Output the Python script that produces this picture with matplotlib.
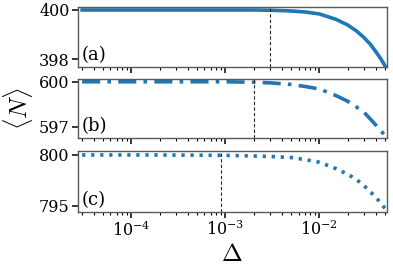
import numpy as np
import matplotlib
matplotlib.use('Agg')
import matplotlib.pyplot as plt

plt.rcParams['font.family'] = 'DejaVu Serif'
plt.rcParams['mathtext.fontset'] = 'dejavuserif'

# data
delta = [3e-5, 5e-5, 1e-4, 2e-4, 5e-4, 1e-3, 2e-3, 3e-3, 5e-3, 7e-3,
         0.01, 0.015, 0.02, 0.025, 0.03, 0.035, 0.04, 0.045, 0.05]
n_a = [400.0, 400.0, 400.0, 400.0, 400.0, 400.0, 400.0, 399.99, 399.96, 399.92,
       399.84, 399.62, 399.39, 399.14, 398.87, 398.6, 398.3, 398.02, 397.73]
n_b = [600.0, 600.0, 600.0, 600.0, 600.0, 600.0, 599.97, 599.93, 599.82, 599.69,
       599.52, 599.08, 598.7, 598.3, 597.95, 597.5, 597.1, 596.75, 596.38]
n_c = [800.0, 800.0, 800.0, 800.0, 799.98, 799.96, 799.9, 799.85, 799.75, 799.55,
       799.28, 798.65, 798.1, 797.55, 796.95, 796.35, 795.8, 795.25, 794.7]
vlines = [3e-3, 2e-3, 9e-4]
yticks = [[398, 400], [597, 600], [795, 800]]
ylims = [(397.70, 400.12), (596.25, 600.16), (794.35, 800.4)]
panel_lbl = ['(a)', '(b)', '(c)']
styles = ['-', (0, (5, 2, 1, 2)), (0, (0.9, 1.6))]

fig = plt.figure(figsize=(3.93, 2.70), dpi=100)
boxes = [(0.198, 0.753, 0.786, 0.221),
         (0.198, 0.489, 0.786, 0.217),
         (0.198, 0.214, 0.786, 0.227)]
axes = [fig.add_axes(b) for b in boxes]

for i, (ax, n) in enumerate(zip(axes, [n_a, n_b, n_c])):
    ax.plot(delta, n, ls=styles[i], color='#1f77b4', lw=2.6)
    ax.axvline(vlines[i], color='0.15', ls=(0, (3, 2)), lw=0.8)
    ax.set_xscale('log')
    ax.set_xlim(2.7e-5, 0.052)
    ax.set_ylim(*ylims[i])
    ax.set_yticks(yticks[i])
    ax.text(0.012, 0.2, panel_lbl[i], transform=ax.transAxes, fontsize=13,
            va='center', ha='left')
    for s in ax.spines.values():
        s.set_color('0.35')
        s.set_linewidth(1.0)
    ax.tick_params(axis='both', which='major', length=4, width=1.1, labelsize=11.5, pad=2)
    ax.tick_params(axis='x', which='minor', length=2.5, width=0.8)
    if i < 2:
        ax.tick_params(axis='x', which='both', labelbottom=False)

axes[2].set_xlabel(r'$\Delta$', fontsize=18, math_fontfamily='cm', labelpad=2)
fig.text(0.045, 0.6, r'$\langle N\rangle$', fontsize=18, math_fontfamily='cm',
         rotation=90, ha='center', va='center')

plt.savefig('out.png', dpi=100)
